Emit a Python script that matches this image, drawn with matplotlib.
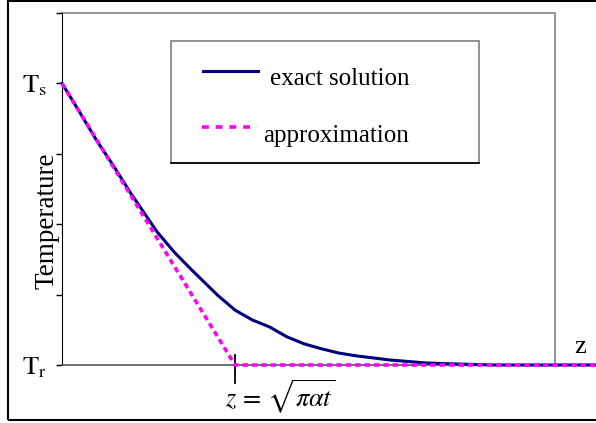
import matplotlib
matplotlib.use("Agg")
import matplotlib.pyplot as plt
from matplotlib.patches import Rectangle

plt.rcParams['font.family'] = ['Liberation Serif', 'DejaVu Serif']
plt.rcParams['mathtext.fontset'] = 'stix'

# z in units of sqrt(pi*alpha*t), temperature scaled so Tr = 0, Ts = 4
z_exact = [0, 0.1, 0.2, 0.3, 0.4, 0.55, 0.65, 0.75, 0.825, 0.9, 1.0, 1.1, 1.2, 1.3, 1.4, 1.5,
           1.6, 1.7, 1.8, 1.9, 2.0, 2.1, 2.2, 2.35, 2.5, 3.1]
T_exact = [4.0, 3.6, 3.19, 2.82, 2.43, 1.89, 1.6, 1.35, 1.17, 0.99, 0.78, 0.64, 0.54, 0.4, 0.30, 0.23,
           0.17, 0.13, 0.10, 0.07, 0.05, 0.03, 0.02, 0.01, 0.0, 0.0]
z_approx = [0, 1.0, 3.1]
T_approx = [4.0, 0.0, 0.0]
ytick_pos = [0, 1, 2, 3, 4, 5]
ytick_lab = [r'$\mathrm{T}_\mathrm{r}$', '', '', '', r'$\mathrm{T}_\mathrm{s}$', '']

W, H = 596, 423
fig = plt.figure(figsize=(W / 100, H / 100), dpi=100)
ax = fig.add_axes([62 / W, 58 / H, 534 / W, 352 / H])

ax.plot(z_exact, T_exact, color='#000080', lw=2.2, clip_on=False, zorder=3)
ax.plot(z_approx, T_approx, color='#ff00ff', lw=2.6, ls=(0, (1.5, 1.1)), clip_on=False, zorder=4)

ax.set_xlim(0, 534 / 173)
ax.set_ylim(0, 5)
ax.set_xticks([])
ax.set_yticks(ytick_pos)
ax.set_yticklabels(ytick_lab, fontsize=19)
ax.tick_params(axis='y', direction='out', length=4, width=1, pad=7)
for s in ['top', 'right']:
    ax.spines[s].set_visible(False)
ax.spines['left'].set_color('black')
ax.spines['bottom'].set_color('#555555')
ax.spines['bottom'].set_linewidth(1.2)

# gray plot-area frame (top and right)
fx = (555 - 62) / 534
ax.plot([0, fx, fx], [1, 1, 0], transform=ax.transAxes, color='#808080', lw=1.2, clip_on=False, zorder=1)

# mark at z = sqrt(pi alpha t)
zm = z_approx[1]
ax.plot([zm, zm], [0.14, -0.26], color='black', lw=1.3, clip_on=False)
ax.text(zm - 10 / 173, -0.45, r'$z\,=\,\sqrt{\pi\alpha t}$', ha='left', va='center', fontsize=19)
ax.text((580 - 62) / 173, 0.26, 'z', ha='center', va='center', fontsize=19)

fig.text(47 / W, 1 - 221 / H, 'Temperature', rotation=90, ha='center', va='center', fontsize=19.5)

# legend box
lx0, lx1, ly0, ly1 = 171 / W, 479 / W, 1 - 163 / H, 1 - 41 / H
fig.patches.append(Rectangle((lx0, ly0), lx1 - lx0, ly1 - ly0, transform=fig.transFigure,
                             fill=False, ec='#808080', lw=1.2))
fig.lines.append(plt.Line2D([lx0, lx1], [ly0, ly0], transform=fig.transFigure, color='black', lw=1.2))
fig.lines.append(plt.Line2D([203 / W, 258 / W], [1 - 71 / H] * 2, transform=fig.transFigure,
                            color='#000080', lw=2.2))
fig.lines.append(plt.Line2D([202 / W, 257 / W], [1 - 127 / H] * 2, transform=fig.transFigure,
                            color='#ff00ff', lw=2.6, ls=(0, (1.9, 1.9))))
fig.text(270 / W, 1 - 79 / H, 'exact solution', ha='left', va='center', fontsize=18)
fig.text(263 / W, 1 - 136 / H, 'approximation', ha='left', va='center', fontsize=18)

# outer border
fig.patches.append(Rectangle((8 / W, 3 / H), 1, 419 / H, transform=fig.transFigure,
                             fill=False, ec='black', lw=1.5))

fig.savefig('out.png', dpi=100)
